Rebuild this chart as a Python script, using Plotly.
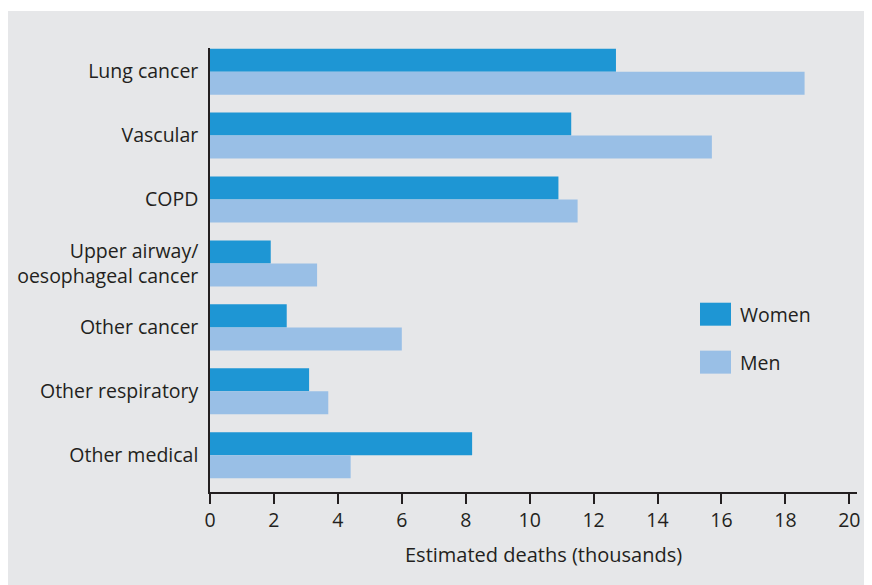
import plotly.graph_objects as go

categories = ["Lung cancer", "Vascular", "COPD", "Upper airway/<br>oesophageal cancer",
              "Other cancer", "Other respiratory", "Other medical"]
women = [12.7, 11.3, 10.9, 1.9, 2.4, 3.1, 8.2]
men = [18.6, 15.7, 11.5, 3.35, 6.0, 3.7, 4.4]
x_ticks = [0, 2, 4, 6, 8, 10, 12, 14, 16, 18, 20]

# page has an 8px body margin; work in figure coordinates = page - 8
OFF = 8
W, H = 872 - OFF, 585 - OFF
L, R, T, B = 210 - OFF, 857 - OFF, 48 - OFF, 492.5 - OFF
pw, ph = R - L, B - T

def px(x):
    return (x - OFF - L) / pw

def py(y):
    return (B - (y - OFF)) / ph

WOMEN_C = "#1e96d4"
MEN_C = "#99bfe6"
TXT = "#231f20"
FONT = "Open Sans"
FS = 19.5

fig = go.Figure()
fig.add_trace(go.Bar(y=categories, x=women, orientation="h", name="Women",
                     marker=dict(color=WOMEN_C, line=dict(width=0))))
fig.add_trace(go.Bar(y=categories, x=men, orientation="h", name="Men",
                     marker=dict(color=MEN_C, line=dict(width=0))))

shapes = [
    dict(type="rect", xref="paper", yref="paper", x0=px(0), x1=px(900),
         y0=py(600), y1=py(11), fillcolor="#e6e7e9", line=dict(width=0), layer="below"),
    dict(type="rect", xref="paper", yref="paper", x0=px(700), x1=px(731),
         y0=py(326), y1=py(303), fillcolor=WOMEN_C, line=dict(width=0)),
    dict(type="rect", xref="paper", yref="paper", x0=px(700), x1=px(731),
         y0=py(374), y1=py(351), fillcolor=MEN_C, line=dict(width=0)),
]
annotations = [
    dict(text="Women", xref="paper", yref="paper", x=px(738), y=py(314.5),
         xanchor="left", yanchor="middle", showarrow=False,
         font=dict(size=FS, color=TXT, family=FONT)),
    dict(text="Men", xref="paper", yref="paper", x=px(738), y=py(362.5),
         xanchor="left", yanchor="middle", showarrow=False,
         font=dict(size=FS, color=TXT, family=FONT)),
    dict(text="Estimated deaths (thousands)", xref="paper", yref="paper",
         x=px(543), y=py(555), xanchor="center", yanchor="middle", showarrow=False,
         font=dict(size=20, color=TXT, family=FONT)),
]

fig.update_layout(
    width=W, height=H,
    margin=dict(l=L, r=W - R, t=T, b=H - B, pad=0, autoexpand=False),
    paper_bgcolor="white",
    plot_bgcolor="rgba(0,0,0,0)",
    barmode="group", bargap=0.28, bargroupgap=0,
    showlegend=False,
    font=dict(family=FONT, size=FS, color=TXT),
    shapes=shapes,
    annotations=annotations,
    xaxis=dict(range=[0, 20.24], tickvals=x_ticks, ticks="outside", ticklen=10,
               tickwidth=1.5, tickcolor=TXT, showline=True, linecolor=TXT, linewidth=1.5,
               showgrid=False, zeroline=False, automargin=False,
               tickfont=dict(size=FS, color=TXT, family=FONT)),
    yaxis=dict(range=[6.575, -0.37], showline=True, linecolor=TXT, linewidth=1.5,
               showgrid=False, zeroline=False, ticks="", ticklabelstandoff=6,
               automargin=False, tickfont=dict(size=FS, color=TXT, family=FONT)),
)

fig.write_html("out.html")
